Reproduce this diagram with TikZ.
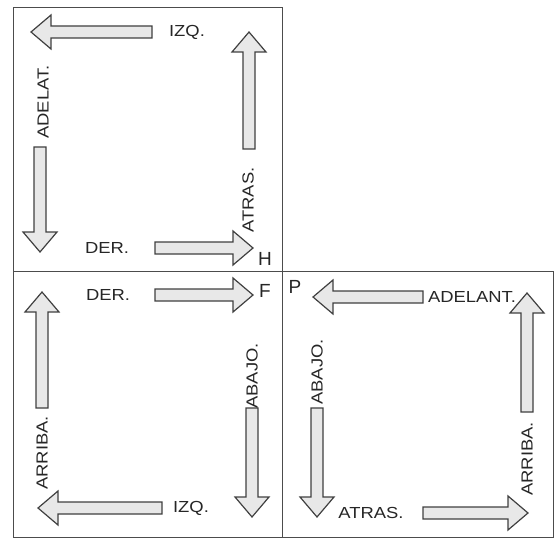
\documentclass[tikz,border=0pt]{standalone}
\usepackage{fontspec}
\setmainfont{Liberation Sans}
\tikzset{
  frame/.style={draw=black!70,line width=0.9pt},
  lbl/.style={font=\fontsize{16}{16}\selectfont\addfontfeature{FakeStretch=1.15},inner sep=0pt,text=black!85},
  letter/.style={font=\fontsize{19}{19}\selectfont,inner sep=0pt,text=black!85},
  arrowbody/.style={draw=black!75,line width=1.2pt,line join=miter,fill=black!9},
  pics/barr/.style={code={
    \draw[arrowbody] (0,-6) -- ({#1-20},-6) -- ({#1-20},-17) -- (#1,0) -- ({#1-20},17) -- ({#1-20},6) -- (0,6) -- cycle;
  }}
}
\begin{document}
\begin{tikzpicture}[x=1pt,y=-1pt]
\useasboundingbox (0,0) rectangle (554,540);
% frames
\draw[frame] (13,7) rectangle (282,271);
\draw[frame] (13,271) rectangle (282,537);
\draw[frame] (282,271) rectangle (553,537);
% top-left square
\pic[rotate=180] (a1) at (152,32) {barr=121};
\pic[rotate=90] (a2) at (249,149) {barr=117};
\pic[rotate=-90] (a3) at (40,147) {barr=105};
\pic (a4) at (155,248) {barr=98};
\node[lbl] (izq1) at (187,32) {IZQ.};
\node[lbl] (der1) at (107,248) {DER.};
\node[lbl,rotate=90] (adel1) at (43,102) {ADELAT.};
\node[lbl,rotate=90] (atr1) at (248,200) {ATRAS.};
\node[letter] (H) at (265,259) {H};
% bottom-left square
\pic (b1) at (155,295) {barr=98};
\pic[rotate=90] (b2) at (42,408) {barr=116};
\pic[rotate=-90] (b3) at (252,408) {barr=109};
\pic[rotate=180] (b4) at (162,508) {barr=124};
\node[lbl] (der2) at (108,295) {DER.};
\node[letter] (F) at (265,291) {F};
\node[lbl,rotate=90] (arr2) at (42,453) {ARRIBA.};
\node[lbl,rotate=90] (abj2) at (252,376) {ABAJO.};
\node[lbl] (izq2) at (191,508) {IZQ.};
% right square
\pic[rotate=180] (c1) at (423,297) {barr=110};
\pic[rotate=90] (c2) at (527,412) {barr=119};
\pic[rotate=-90] (c3) at (317,408) {barr=109};
\pic (c4) at (423,513) {barr=105};
\node[letter] (P) at (295,287) {P};
\node[lbl] (adel3) at (472,297) {ADELANT.};
\node[lbl,rotate=90] (arr3) at (527,459) {ARRIBA.};
\node[lbl,rotate=90] (abj3) at (317,372) {ABAJO.};
\node[lbl] (atr3) at (371,513) {ATRAS.};
\end{tikzpicture}
\end{document}
